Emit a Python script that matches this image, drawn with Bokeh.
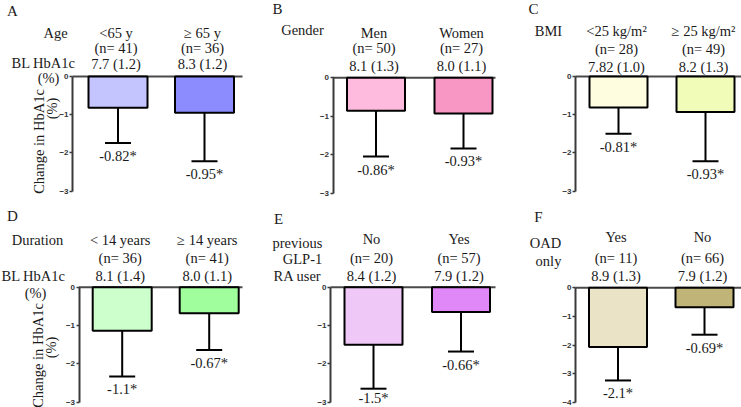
import math
from bokeh.plotting import figure
from bokeh.models import Range1d, LinearAxis, FixedTicker, ColumnDataSource
from bokeh.core.properties import value
from bokeh.embed import file_html
from bokeh.resources import INLINE

# ---------------- data ----------------
panel_letters = ["A", "B", "C", "D", "E", "F"]
factor_labels = [["Age"], ["Gender"], ["BMI"], ["Duration"],
                 ["previous", "GLP-1", "RA user"], ["OAD", "only"]]
group_labels = [["<65 y", "\u2265 65 y"], ["Men", "Women"],
                ["<25 kg/m\u00b2", "\u2265 25 kg/m\u00b2"],
                ["< 14 years", "\u2265 14 years"], ["No", "Yes"], ["Yes", "No"]]
n_labels = [["(n= 41)", "(n= 36)"], ["(n= 50)", "(n= 27)"], ["(n= 28)", "(n= 49)"],
            ["(n= 36)", "(n= 41)"], ["(n= 20)", "(n= 57)"], ["(n= 11)", "(n= 66)"]]
baseline_labels = [["7.7 (1.2)", "8.3 (1.2)"], ["8.1 (1.3)", "8.0 (1.1)"],
                   ["7.82 (1.0)", "8.2 (1.3)"], ["8.1 (1.4)", "8.0 (1.1)"],
                   ["8.4 (1.2)", "7.9 (1.2)"], ["8.9 (1.3)", "7.9 (1.2)"]]
change = [[-0.82, -0.95], [-0.86, -0.93], [-0.81, -0.93],
          [-1.14, -0.68], [-1.50, -0.65], [-2.07, -0.68]]
sd = [[0.92, 1.27], [1.19, 0.91], [0.69, 1.29],
      [1.19, 0.96], [1.15, 1.03], [1.17, 0.96]]
change_labels = [["-0.82*", "-0.95*"], ["-0.86*", "-0.93*"], ["-0.81*", "-0.93*"],
                 ["-1.1*", "-0.67*"], ["-1.5*", "-0.66*"], ["-2.1*", "-0.69*"]]
bar_colors = [["#c4c4ff", "#8c8cff"], ["#ffbbdd", "#f896c4"], ["#fffde0", "#f0fcb8"],
              ["#ccffcc", "#a0ff9c"], ["#f0c8f8", "#e088f8"], ["#ebe3c5", "#c0b478"]]
y_min = [-3, -3, -3, -3, -3, -4]

# ---------------- layout (page pixels) ----------------
W, H = 741, 407
layout = [
    dict(axis=72, zero=76.0, unit=38.2, c=(117.5, 204.0), bw=59, end=242,
         rows=(32, 47, 63), letter=(12, 10),
         flab=[(55, 32)], bl=True, bl_pos=[(43, 62), (48, 77)],
         ylab=[(38, 141), (51, 108)]),
    dict(axis=332.5, zero=77.3, unit=38.4, c=(375.5, 463.0), bw=58, end=495,
         rows=(32, 47, 65), letter=(277, 8), flab=[(302, 29)], bl=False),
    dict(axis=575, zero=76.0, unit=38.2, c=(618.0, 705.0), bw=58, end=741,
         rows=(30, 48, 66), letter=(533, 8), flab=[(548, 30)], bl=False),
    dict(axis=78.5, zero=286.7, unit=38.3, c=(121.7, 208.7), bw=59, end=242,
         rows=(239, 257, 275), letter=(12, 215),
         flab=[(37, 239)], bl=True, bl_pos=[(33, 275), (35, 292)],
         ylab=[(37, 355), (50, 347)]),
    dict(axis=330, zero=286.7, unit=38.3, c=(373.0, 460.5), bw=58, end=495,
         rows=(238, 257, 275), letter=(278, 218),
         flab=[(297, 242), (302, 258), (297, 275)], bl=False),
    dict(axis=575, zero=287.3, unit=28.6, c=(617.5, 704.0), bw=58, end=741,
         rows=(236, 257, 275), letter=(538, 216),
         flab=[(545, 242), (548, 260)], bl=False),
]

SERIF = value("Liberation Serif")
TXT = "#1a1a1a"
LABEL_PX = 14.5

p = figure(width=W, height=H, output_backend="svg", toolbar_location=None,
           x_range=Range1d(0, W), y_range=Range1d(H, 0),
           min_border=0, min_border_left=0, min_border_right=0,
           min_border_top=0, min_border_bottom=0)
p.axis.visible = False
p.grid.visible = False
p.outline_line_color = None
p.background_fill_color = "white"
p.border_fill_color = "white"

for k in range(6):
    L = layout[k]
    c0, c1 = L["c"]
    d = c1 - c0
    xn, yn = f"x{k}", f"y{k}"
    p.extra_x_ranges[xn] = Range1d((0 - c0) / d, (W - c0) / d)
    p.extra_y_ranges[yn] = Range1d(-(H - L["zero"]) / L["unit"], L["zero"] / L["unit"])
    ax_loc = (L["axis"] - c0) / d
    end_loc = (L["end"] - c0) / d

    # zero line
    p.segment(x0=[ax_loc], y0=[0], x1=[end_loc], y1=[0], line_color="#4a4a4a",
              line_width=2, x_range_name=xn, y_range_name=yn)

    xs = [0, 1]
    vals = change[k]
    lows = [v - s for v, s in zip(vals, sd[k])]
    # gap between cap and label, reduced only where the page edge is near
    offs = []
    for lo in lows:
        low_px = L["zero"] - lo * L["unit"]
        offs.append(max(0.0, min(5.0, H - 1 - LABEL_PX * 1.15 - low_px)))
    src = ColumnDataSource(dict(x=xs, top=[0, 0], bottom=vals, low=lows, off=offs,
                                color=bar_colors[k], lab=change_labels[k],
                                grp=group_labels[k], n=n_labels[k],
                                bl=baseline_labels[k]))
    # error bars (below bar)
    p.segment(x0="x", y0="bottom", x1="x", y1="low", source=src, line_color="black",
              line_width=2, x_range_name=xn, y_range_name=yn)
    cap = 13.0 / d
    p.segment(x0=[x - cap for x in xs], y0=lows, x1=[x + cap for x in xs], y1=lows,
              line_color="black", line_width=2, x_range_name=xn, y_range_name=yn)
    # bars
    p.vbar(x="x", top="top", bottom="bottom", width=L["bw"] / d, source=src,
           fill_color="color", line_color="black", line_width=2,
           x_range_name=xn, y_range_name=yn)
    # value labels
    p.text(x="x", y="low", text="lab", source=src, text_font=SERIF,
           text_font_size=f"{LABEL_PX}px", text_color=TXT, text_align="center",
           text_baseline="top", y_offset="off", x_range_name=xn, y_range_name=yn)

    # y axis
    ax = LinearAxis(x_range_name=xn, y_range_name=yn, fixed_location=ax_loc,
                    bounds=(y_min[k], 0),
                    ticker=FixedTicker(ticks=list(range(y_min[k], 1))))
    ax.axis_line_color = "#3a3a3a"
    ax.axis_line_width = 2
    ax.major_tick_line_color = "#3a3a3a"
    ax.major_tick_line_width = 1.5
    ax.major_tick_out = 3
    ax.major_tick_in = 0
    ax.minor_tick_line_color = None
    ax.major_label_standoff = 1
    ax.major_label_text_font = "Liberation Sans"
    ax.major_label_text_font_style = "bold"
    ax.major_label_text_font_size = "8px"
    ax.major_label_text_color = "#333333"
    p.add_layout(ax, "left")

    # header rows
    r1, r2, r3 = L["rows"]
    for col, ry in (("grp", r1), ("n", r2), ("bl", r3)):
        p.text(x="x", y=ry, text=col, source=src, text_font=SERIF,
               text_font_size="14.5px", text_color=TXT, text_align="center",
               text_baseline="middle", x_offset=-2, x_range_name=xn)

    # factor labels
    fl = factor_labels[k]
    p.text(x=[pos[0] for pos in L["flab"]], y=[pos[1] for pos in L["flab"]], text=fl,
           text_font=SERIF, text_font_size="14.5px", text_color=TXT,
           text_align="center", text_baseline="middle")
    if L["bl"]:
        p.text(x=[q[0] for q in L["bl_pos"]], y=[q[1] for q in L["bl_pos"]],
               text=["BL HbA1c", "(%)"], text_font=SERIF, text_font_size="14.5px",
               text_color=TXT, text_align="center", text_baseline="middle")
        p.text(x=[q[0] for q in L["ylab"]], y=[q[1] for q in L["ylab"]],
               text=["Change in HbA1c", "(%)"], angle=math.pi / 2,
               text_font=SERIF, text_font_size="14.5px", text_color=TXT,
               text_align="center", text_baseline="middle")
    # panel letter
    p.text(x=[L["letter"][0]], y=[L["letter"][1]], text=[panel_letters[k]],
           text_font=SERIF, text_font_size="15px", text_color=TXT,
           text_align="center", text_baseline="middle")

open("out.html", "w").write(file_html(p, INLINE))
